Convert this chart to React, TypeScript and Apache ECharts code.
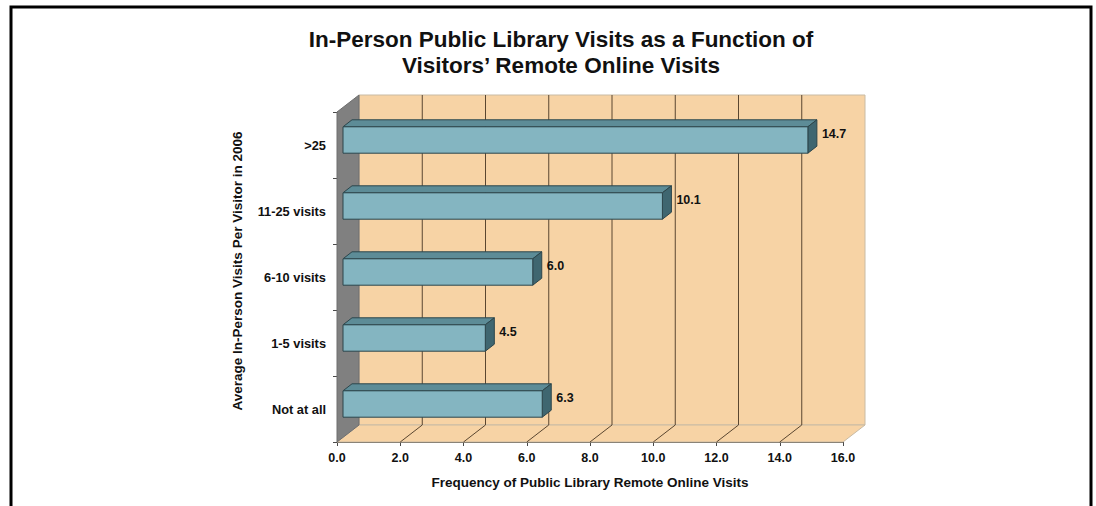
import React, { useEffect, useRef } from "react";
import * as echarts from "echarts";

// Chart content
const titleLines = ["In-Person Public Library Visits as a Function of", "Visitors\u2019 Remote Online Visits"];
const categories = [">25", "11-25 visits", "6-10 visits", "1-5 visits", "Not at all"];
const visits = [14.7, 10.1, 6.0, 4.5, 6.3];
const xTicks = [0, 2, 4, 6, 8, 10, 12, 14, 16];
const xAxisName = "Frequency of Public Library Remote Online Visits";
const yAxisName = "Average In-Person Visits Per Visitor in 2006";

const FONT = "'Liberation Sans', Arial, Helvetica, sans-serif";

// Depth of the 3D box (back wall offset) and of the bars
const WALL_DX = 22;
const WALL_DY = -17;
const BAR_SHIFT_X = 6;
const BAR_SHIFT_Y = -5;
const BAR_DX = 9;
const BAR_DY = -7;

const PEACH = "#F7D3A5";
const GRID_LINE = "#5A4630";
const SIDE_WALL = "#808080";
const BAR_FRONT = "#84B5C1";
const BAR_TOP = "#5D8C97";
const BAR_SIDE = "#3F6670";
const BAR_EDGE = "#2C454B";

export default function App() {
  const ref = useRef<HTMLDivElement>(null);

  useEffect(() => {
    if (!ref.current) return;
    const chart = echarts.init(ref.current, null, { renderer: "svg" });

    const minX = xTicks[0];
    const maxX = xTicks[xTicks.length - 1];
    const step = xTicks[1] - xTicks[0];

    const wallsItem = (params: any, api: any) => {
      const cs = params.coordSys;
      const x0 = cs.x;
      const y0 = cs.y;
      const x1 = cs.x + cs.width;
      const yb = cs.y + cs.height;
      const children: any[] = [
        {
          type: "polygon",
          shape: {
            points: [
              [x0 + WALL_DX, y0 + WALL_DY],
              [x1 + WALL_DX, y0 + WALL_DY],
              [x1 + WALL_DX, yb + WALL_DY],
              [x0 + WALL_DX, yb + WALL_DY],
            ],
          },
          style: { fill: PEACH, stroke: "#C9BBA4", lineWidth: 1 },
        },
        {
          type: "polygon",
          shape: {
            points: [
              [x0, yb],
              [x1, yb],
              [x1 + WALL_DX, yb + WALL_DY],
              [x0 + WALL_DX, yb + WALL_DY],
            ],
          },
          style: { fill: PEACH, stroke: "#C9BBA4", lineWidth: 1 },
        },
        {
          type: "polygon",
          shape: {
            points: [
              [x0, y0],
              [x0 + WALL_DX, y0 + WALL_DY],
              [x0 + WALL_DX, yb + WALL_DY],
              [x0, yb],
            ],
          },
          style: { fill: SIDE_WALL, stroke: "#6E6E6E", lineWidth: 1 },
        },
      ];
      xTicks
        .filter((t) => t > minX && t < maxX)
        .forEach((t) => {
          const px = api.coord([t, 0])[0];
          children.push({
            type: "line",
            shape: { x1: px + WALL_DX, y1: y0 + WALL_DY, x2: px + WALL_DX, y2: yb + WALL_DY },
            style: { stroke: GRID_LINE, lineWidth: 1 },
          });
          children.push({
            type: "line",
            shape: { x1: px, y1: yb, x2: px + WALL_DX, y2: yb + WALL_DY },
            style: { stroke: GRID_LINE, lineWidth: 1 },
          });
        });
      return { type: "group", children };
    };

    const barItem = (params: any, api: any) => {
      const v = api.value(0);
      const i = api.value(1);
      const start = api.coord([0, i]);
      const end = api.coord([v, i]);
      const band = api.size([0, 1])[1];
      const fh = band * 0.4;
      const left = start[0] + BAR_SHIFT_X;
      const right = end[0] + BAR_SHIFT_X;
      const top = start[1] + BAR_SHIFT_Y - fh / 2;
      const bottom = top + fh;
      const edge = { stroke: BAR_EDGE, lineWidth: 1 };
      return {
        type: "group",
        children: [
          {
            type: "polygon",
            shape: {
              points: [
                [left, top],
                [right, top],
                [right + BAR_DX, top + BAR_DY],
                [left + BAR_DX, top + BAR_DY],
              ],
            },
            style: { fill: BAR_TOP, ...edge },
          },
          {
            type: "polygon",
            shape: {
              points: [
                [right, top],
                [right + BAR_DX, top + BAR_DY],
                [right + BAR_DX, bottom + BAR_DY],
                [right, bottom],
              ],
            },
            style: { fill: BAR_SIDE, ...edge },
          },
          {
            type: "rect",
            shape: { x: left, y: top, width: right - left, height: fh },
            style: { fill: BAR_FRONT, ...edge },
          },
          {
            type: "text",
            x: right + BAR_DX + 5,
            y: start[1] - 11,
            style: {
              text: v.toFixed(1),
              fill: "#111",
              font: `bold 12.5px ${FONT}`,
              align: "left",
              verticalAlign: "middle",
            },
          },
        ],
      };
    };

    chart.setOption({
      animation: false,
      backgroundColor: "#ffffff",
      title: {
        text: titleLines.join("\n"),
        left: 556,
        top: 21,
        textAlign: "center",
        textStyle: {
          fontFamily: FONT,
          fontSize: 22.5,
          fontWeight: "bold",
          lineHeight: 26,
          color: "#111",
        },
      },
      graphic: [
        {
          type: "polyline",
          shape: { points: [[11, 520], [11, 7], [1091, 7], [1091, 520]] },
          style: { stroke: "#000", lineWidth: 3, fill: "none" },
        },
      ],
      grid: { left: 337, right: 253, top: 112, bottom: 64, containLabel: false },
      xAxis: {
        type: "value",
        min: minX,
        max: maxX,
        interval: step,
        name: xAxisName,
        nameLocation: "middle",
        nameGap: 33,
        nameTextStyle: { fontFamily: FONT, fontSize: 13.5, fontWeight: "bold", color: "#111" },
        axisLine: { show: true, lineStyle: { color: "#4a4a4a", width: 1 } },
        axisTick: { show: true, length: 4, lineStyle: { color: "#4a4a4a" } },
        axisLabel: {
          formatter: (val: number) => val.toFixed(1),
          margin: 9,
          fontFamily: FONT,
          fontSize: 12.5,
          fontWeight: "bold",
          color: "#111",
        },
        splitLine: { show: false },
      },
      yAxis: {
        type: "category",
        data: categories,
        inverse: true,
        name: yAxisName,
        nameLocation: "middle",
        nameGap: 93,
        nameRotate: 90,
        nameTextStyle: {
          fontFamily: FONT,
          fontSize: 13.5,
          fontWeight: "bold",
          color: "#111",
          padding: [0, 0, 0, 12],
        },
        axisLine: { show: true, lineStyle: { color: "#4a4a4a", width: 1 } },
        axisTick: { show: true, length: 4, lineStyle: { color: "#4a4a4a" } },
        axisLabel: { margin: 11, fontFamily: FONT, fontSize: 12.8, fontWeight: "bold", color: "#111" },
        splitLine: { show: false },
      },
      series: [
        {
          type: "custom",
          name: "walls",
          renderItem: wallsItem,
          data: [[0, 0]],
          clip: false,
          silent: true,
          z: 1,
        },
        {
          type: "custom",
          name: "visits",
          renderItem: barItem,
          data: visits.map((v, i) => [v, i]),
          encode: { x: 0, y: 1 },
          clip: false,
          z: 3,
        },
      ],
    });

    return () => chart.dispose();
  }, []);

  return (
    <div
      ref={ref}
      style={{ position: "fixed", left: 0, top: 0, width: 1096, height: 506, background: "#fff" }}
    />
  );
}
